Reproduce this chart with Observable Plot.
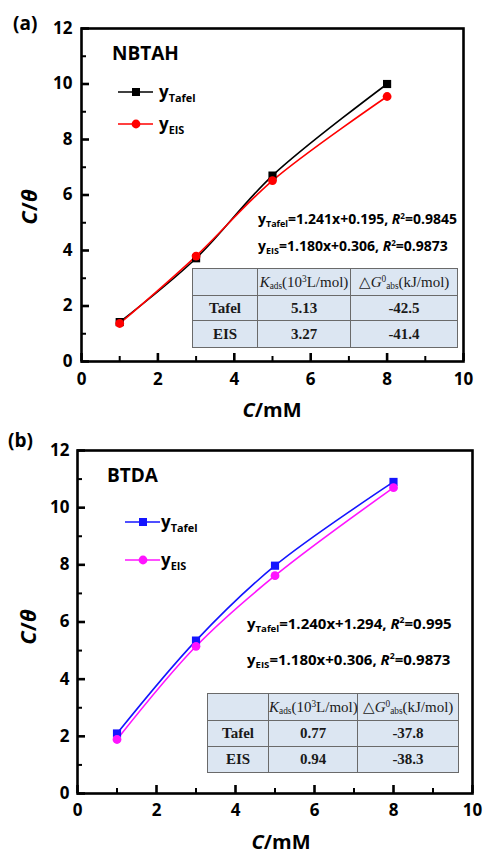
<!DOCTYPE html>
<html><head><meta charset="utf-8">
<script src="https://cdn.jsdelivr.net/npm/d3@7"></script>
<script src="https://cdn.jsdelivr.net/npm/@observablehq/plot@0.6"></script>
<style>
body{margin:0;background:#fff;}
#root{position:relative;width:484px;height:854px;overflow:hidden;font-family:"Open Sans",sans-serif;color:#000;}
.panel{position:absolute;left:0;width:484px;}
.ov{position:absolute;white-space:nowrap;line-height:1;font-weight:bold;}
.sub{font-size:0.64em;position:relative;top:0.36em;}
.sup{font-size:0.58em;position:relative;top:-0.62em;}
table.t{position:absolute;border-collapse:collapse;table-layout:fixed;background:#dce6f2;font-family:"Liberation Serif","Times New Roman",serif;font-size:15px;color:#1a1a1a;border:1.5px solid #6a6a6a;}
table.t td{border:1px solid #6a6a6a;text-align:center;vertical-align:middle;padding:0;font-weight:bold;white-space:nowrap;line-height:1;}
table.t tr:first-child td{font-weight:normal;}
.tsub{font-size:0.62em;position:relative;top:0.3em;}
.tsup{font-size:0.62em;position:relative;top:-0.5em;}
</style></head><body><div id="root"></div>
<script>
// ---- data ----
const concentration = [1, 3, 5, 8];
const tafelA = [1.42, 3.72, 6.70, 10.0];
const eisA   = [1.37, 3.80, 6.52, 9.55];
const tafelB = [2.10, 5.35, 7.97, 10.90];
const eisB   = [1.89, 5.15, 7.62, 10.70];
const xTicks = [0, 2, 4, 6, 8, 10];
const yTicks = [0, 2, 4, 6, 8, 10, 12];
const xMinor = [1, 3, 5, 7, 9];
const yMinor = [1, 3, 5, 7, 9, 11];
const panelLabels = ["(a)", "(b)"];
const compounds = ["NBTAH", "BTDA"];
const seriesNames = ["Tafel", "EIS"];
const slopesA = ["1.241", "1.180"], interceptsA = ["0.195", "0.306"], r2A = ["0.9845", "0.9873"];
const slopesB = ["1.240", "1.180"], interceptsB = ["1.294", "0.306"], r2B = ["0.995", "0.9873"];
const kadsA = ["5.13", "3.27"], dGA = ["-42.5", "-41.4"];
const kadsB = ["0.77", "0.94"], dGB = ["-37.8", "-38.3"];

// ---- layout ----
const panels = [
  {top: 0, height: 420, m: {left: 81, right: 21, top: 28, bottom: 59}, colors: ["#000000", "#ff0000"],
   tafel: tafelA, eis: eisA, label: panelLabels[0], name: compounds[0],
   slopes: slopesA, intercepts: interceptsA, r2: r2A, kads: kadsA, dG: dGA,
   lab: {x: 13, b: 31}, nameP: {x: 112, b: 61}, leg: {x: 118, y1: 92, y2: 124, tx: 159},
   eq: {x: 258, b1: 224, b2: 251, fs: 14},
   tab: {left: 192, top: 268, cols: [65, 93, 107], rows: [27, 25, 27]},
   ylab: {x: 28, y: 207}, xlab: {x: 272, b: 418}, tickPadY: 9, tickPadX: 11},
  {top: 420, height: 434, m: {left: 77, right: 12, top: 30, bottom: 61}, colors: ["#1414ff", "#ff14ff"],
   tafel: tafelB, eis: eisB, label: panelLabels[1], name: compounds[1],
   slopes: slopesB, intercepts: interceptsB, r2: r2B, kads: kadsB, dG: dGB,
   lab: {x: 8, b: 27.5}, nameP: {x: 107, b: 63}, leg: {x: 125, y1: 102, y2: 140, tx: 161},
   eq: {x: 247, b1: 209, b2: 245, fs: 15},
   tab: {left: 207, top: 273, cols: [61, 89, 101], rows: [27, 26, 26]},
   ylab: {x: 27, y: 207}, xlab: {x: 281, b: 430}, tickPadY: 8, tickPadX: 10}
];

const root = document.getElementById("root");

function txt(parent, html, x, baseline, fs, align) {
  const d = document.createElement("div");
  d.className = "ov";
  d.innerHTML = html;
  d.style.fontSize = fs + "px";
  d.style.left = x + "px";
  d.style.top = (baseline - 0.888 * fs) + "px";
  if (align === "center") d.style.transform = "translateX(-50%)";
  parent.appendChild(d);
  return d;
}

function swatch(color, sym) {
  const mk = sym === "square"
    ? `<rect x="14" y="1" width="8" height="8" fill="${color}"/>`
    : `<circle cx="18" cy="5" r="4.4" fill="${color}"/>`;
  return `<svg width="35" height="10" style="display:block"><line x1="0" y1="5" x2="35" y2="5" stroke="${color}" stroke-width="1.6"/>${mk}</svg>`;
}

panels.forEach(cfg => {
  const div = document.createElement("div");
  div.className = "panel";
  div.style.top = cfg.top + "px";
  div.style.height = cfg.height + "px";
  root.appendChild(div);

  const rows = [];
  concentration.forEach((c, i) => {
    rows.push({x: c, y: cfg.tafel[i], s: seriesNames[0]});
    rows.push({x: c, y: cfg.eis[i], s: seriesNames[1]});
  });
  const W = 484, H = cfg.height, m = cfg.m;
  const pxX = (W - m.left - m.right) / 10, pxY = (H - m.top - m.bottom) / 12;

  const plot = Plot.plot({
    width: W, height: H,
    marginLeft: m.left, marginRight: m.right, marginTop: m.top, marginBottom: m.bottom,
    x: {domain: [0, 10]}, y: {domain: [0, 12]},
    color: {domain: seriesNames, range: cfg.colors},
    style: {background: "transparent", fontFamily: "'Open Sans', sans-serif", fontWeight: "bold", overflow: "visible", color: "#000"},
    marks: [
      Plot.axisX({ticks: xTicks, tickSize: 0, tickPadding: cfg.tickPadX, fontSize: 17, label: null, tickFormat: d => d}),
      Plot.axisY({ticks: yTicks, tickSize: 0, tickPadding: cfg.tickPadY, fontSize: 17, label: null, tickFormat: d => d}),
      Plot.line(rows, {x: "x", y: "y", stroke: "s", z: "s", curve: "catmull-rom", strokeWidth: 1.6}),
      Plot.dot(rows.filter(d => d.s === seriesNames[0]), {x: "x", y: "y", fill: "s", symbol: "square", r: 4.6}),
      Plot.dot(rows.filter(d => d.s === seriesNames[1]), {x: "x", y: "y", fill: "s", symbol: "circle", r: 4.4}),
      Plot.frame({stroke: "#000", strokeWidth: 2.6}),
      Plot.ruleX(xTicks, {x: d => d, y1: 0, y2: 8 / pxY, stroke: "#000", strokeWidth: 2.6}),
      Plot.ruleX(xMinor, {x: d => d, y1: 0, y2: 5 / pxY, stroke: "#000", strokeWidth: 2}),
      Plot.ruleY(yTicks, {y: d => d, x1: 0, x2: 8 / pxX, stroke: "#000", strokeWidth: 2.6}),
      Plot.ruleY(yMinor, {y: d => d, x1: 0, x2: 5 / pxX, stroke: "#000", strokeWidth: 2})
    ]
  });
  plot.style.position = "absolute";
  plot.style.left = "0px";
  plot.style.top = "0px";
  div.appendChild(plot);

  // panel label and compound name
  txt(div, cfg.label, cfg.lab.x, cfg.lab.b, 19);
  txt(div, cfg.name, cfg.nameP.x, cfg.nameP.b, 19);

  // legend
  const lg = [[seriesNames[0], "square", cfg.colors[0], cfg.leg.y1], [seriesNames[1], "circle", cfg.colors[1], cfg.leg.y2]];
  lg.forEach(([n, sym, col, y]) => {
    const s = document.createElement("div");
    s.style.position = "absolute";
    s.style.left = cfg.leg.x + "px";
    s.style.top = (y - 5) + "px";
    s.innerHTML = swatch(col, sym);
    div.appendChild(s);
    txt(div, `y<span class="sub">${n}</span>`, cfg.leg.tx, y + 6.5, 17);
  });

  // equations
  [0, 1].forEach(i => {
    txt(div, `y<span class="sub">${seriesNames[i]}</span>=${cfg.slopes[i]}x+${cfg.intercepts[i]}, <i>R</i><span class="sup">2</span>=${cfg.r2[i]}`,
      cfg.eq.x, i === 0 ? cfg.eq.b1 : cfg.eq.b2, cfg.eq.fs);
  });

  // table
  const t = document.createElement("table");
  t.className = "t";
  t.style.left = cfg.tab.left + "px";
  t.style.top = cfg.tab.top + "px";
  t.style.width = cfg.tab.cols.reduce((a, b) => a + b, 0) + "px";
  const cg = cfg.tab.cols.map(w => `<col style="width:${w}px">`).join("");
  t.innerHTML = `<colgroup>${cg}</colgroup>
    <tr style="height:${cfg.tab.rows[0]}px"><td></td><td><i>K</i><span class="tsub">ads</span>(10<span class="tsup">3</span>L/mol)</td><td>△<i>G</i><span class="tsup">0</span><span class="tsub">abs</span>(kJ/mol)</td></tr>
    <tr style="height:${cfg.tab.rows[1]}px"><td>${seriesNames[0]}</td><td>${cfg.kads[0]}</td><td>${cfg.dG[0]}</td></tr>
    <tr style="height:${cfg.tab.rows[2]}px"><td>${seriesNames[1]}</td><td>${cfg.kads[1]}</td><td>${cfg.dG[1]}</td></tr>`;
  div.appendChild(t);

  // axis titles
  const yl = document.createElement("div");
  yl.className = "ov";
  yl.innerHTML = "<i>C</i>/<i>θ</i>";
  yl.style.fontSize = "22px";
  yl.style.left = cfg.ylab.x + "px";
  yl.style.top = cfg.ylab.y + "px";
  yl.style.transform = "translate(-50%,-50%) rotate(-90deg)";
  div.appendChild(yl);
  txt(div, "<i>C</i>/mM", cfg.xlab.x, cfg.xlab.b, 20, "center");
});
</script></body></html>
